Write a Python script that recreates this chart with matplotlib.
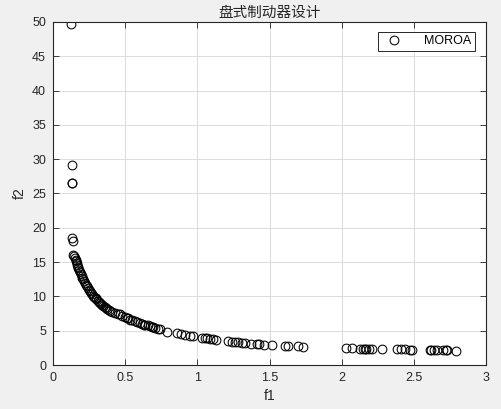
import matplotlib
matplotlib.use('Agg')
import matplotlib.pyplot as plt
from matplotlib.ticker import FixedLocator, FuncFormatter

plt.rcParams['font.family'] = ['Liberation Sans', 'Noto Sans CJK SC', 'DejaVu Sans']

# Pareto front points
f1 = [0.125, 0.13, 0.132, 0.133, 0.134, 0.141, 0.141,
      0.148, 0.152, 0.156, 0.159, 0.163, 0.169, 0.173, 0.176, 0.18, 0.187,
      0.192, 0.199, 0.204, 0.21, 0.216, 0.222, 0.228, 0.233, 0.24, 0.248,
      0.256, 0.265, 0.272, 0.279, 0.287, 0.295, 0.30, 0.31, 0.318, 0.326,
      0.335, 0.342, 0.349, 0.358, 0.365, 0.372, 0.385, 0.395, 0.406, 0.43,
      0.45, 0.464, 0.48, 0.5, 0.51, 0.52, 0.535, 0.55, 0.565, 0.58, 0.6,
      0.615, 0.63, 0.64, 0.655, 0.67, 0.685, 0.695, 0.71, 0.725, 0.74,
      0.79, 0.857, 0.89, 0.915, 0.95, 0.97, 1.03, 1.05, 1.07, 1.09, 1.11,
      1.13, 1.21, 1.24, 1.26, 1.28, 1.31, 1.33, 1.37, 1.41, 1.43, 1.46,
      1.52, 1.61, 1.63, 1.70, 1.73, 2.03, 2.07, 2.13, 2.15, 2.16, 2.17,
      2.19, 2.21, 2.28, 2.38, 2.41, 2.44, 2.47, 2.49, 2.61, 2.62, 2.64,
      2.66, 2.70, 2.72, 2.73, 2.79]
f2 = [49.7, 29.2, 26.6, 26.5, 18.5, 18.1, 16.1,
      15.9, 15.6, 15.3, 15.1, 14.9, 14.6, 14.3, 14.2, 13.9, 13.6,
      13.3, 13.0, 12.7, 12.5, 12.2, 12.0, 11.7, 11.5, 11.2, 11.0,
      10.8, 10.5, 10.3, 10.1, 9.9, 9.7, 9.6, 9.4, 9.2, 9.0,
      8.9, 8.7, 8.6, 8.4, 8.3, 8.2, 8.0, 7.8, 7.7, 7.6,
      7.5, 7.4, 7.1, 7.0, 6.9, 6.8, 6.6, 6.5, 6.4, 6.3, 6.1,
      6.0, 5.9, 5.85, 5.8, 5.7, 5.6, 5.5, 5.4, 5.3, 5.2,
      4.8, 4.6, 4.5, 4.4, 4.3, 4.2, 4.0, 3.95, 3.9, 3.85, 3.8,
      3.6, 3.5, 3.4, 3.35, 3.3, 3.2, 3.15, 3.1, 3.0, 3.0, 2.95,
      2.9, 2.8, 2.8, 2.7, 2.6, 2.5, 2.45, 2.4, 2.4, 2.38, 2.37,
      2.36, 2.35, 2.3, 2.3, 2.28, 2.26, 2.25, 2.24, 2.2, 2.2, 2.18,
      2.17, 2.15, 2.14, 2.13, 2.1]

x_ticks = [0, 0.5, 1, 1.5, 2, 2.5, 3]
y_ticks = [0, 5, 10, 15, 20, 25, 30, 35, 40, 45, 50]

fig = plt.figure(figsize=(5.01, 4.09), dpi=100)
fig.patch.set_facecolor('#f0f0f0')
ax = fig.add_axes([53 / 501, 44 / 409, 433 / 501, 343 / 409])
ax.set_facecolor('white')

ax.plot(f1, f2, 'o', markerfacecolor='none', markeredgecolor='black',
        markersize=6.3, markeredgewidth=0.75, label='MOROA')

ax.set_xlim(0, 3)
ax.set_ylim(0, 50)
ax.xaxis.set_major_locator(FixedLocator(x_ticks))
ax.yaxis.set_major_locator(FixedLocator(y_ticks))
ax.xaxis.set_major_formatter(FuncFormatter(lambda v, p: f'{v:g}'))
ax.yaxis.set_major_formatter(FuncFormatter(lambda v, p: f'{v:g}'))

ax.grid(True, color='#dcdcdc', linewidth=0.7)
ax.set_axisbelow(True)
for s in ax.spines.values():
    s.set_color('#262626')
    s.set_linewidth(0.8)
ax.tick_params(direction='in', top=True, right=True, length=4,
               width=0.6, colors='#262626', labelsize=9, pad=5)

ax.set_title('盘式制动器设计', fontsize=10.5, color='#262626', pad=4)
ax.set_xlabel('f1', fontsize=10, color='#262626', labelpad=4)
ax.set_ylabel('f2', fontsize=10, color='#262626', labelpad=4)

leg = ax.legend(loc='upper right', fontsize=9, frameon=True, fancybox=False,
                edgecolor='#262626', framealpha=1, borderpad=0.3,
                handletextpad=1.4, bbox_to_anchor=(0.99, 0.99))
leg.get_frame().set_linewidth(0.7)

fig.savefig('out.png', dpi=100, facecolor=fig.get_facecolor())
